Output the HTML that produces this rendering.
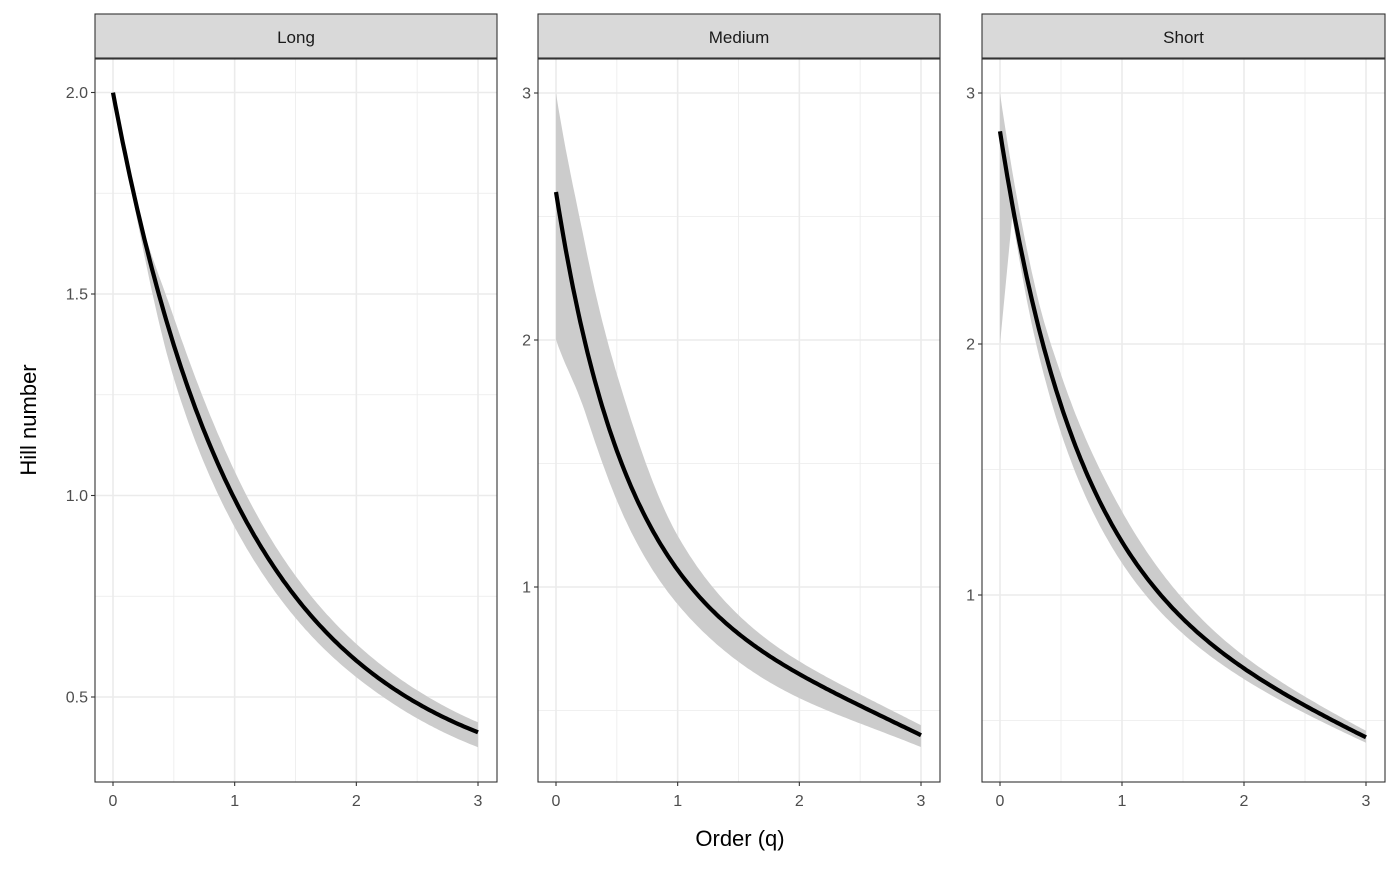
<!DOCTYPE html>
<html><head><meta charset="utf-8"><style>
html,body{margin:0;padding:0;background:#fff;}
svg text{font-family:"Liberation Sans",sans-serif;}
</style></head><body>
<svg id="s" width="1400" height="866" xmlns="http://www.w3.org/2000/svg"></svg>
<script>
const S=document.getElementById('s');let h='';
function mono(k,v){const n=k.length,d=[],m=[];
 for(let i=0;i<n-1;i++)d.push((v[i+1]-v[i])/(k[i+1]-k[i]));
 m[0]=d[0];m[n-1]=d[n-2];
 for(let i=1;i<n-1;i++){m[i]=(d[i-1]*d[i]<=0)?0:(d[i-1]+d[i])/2;}
 for(let i=0;i<n-1;i++){if(d[i]===0){m[i]=m[i+1]=0;continue;}
  const a=m[i]/d[i],b=m[i+1]/d[i],s=a*a+b*b;if(s>9){const t=3/Math.sqrt(s);m[i]=t*a*d[i];m[i+1]=t*b*d[i];}}
 return q=>{let i=0;while(i<n-2&&q>k[i+1])i++;const hh=k[i+1]-k[i],t=(q-k[i])/hh,t2=t*t,t3=t2*t;
  return (2*t3-3*t2+1)*v[i]+(t3-2*t2+t)*hh*m[i]+(-2*t3+3*t2)*v[i+1]+(t3-t2)*hh*m[i+1];};}
function polyfit(k,v,deg){const n=deg+1,A=[],B=[];
 for(let i=0;i<n;i++){A.push(new Array(n).fill(0));B.push(0);}
 k.forEach((x,j)=>{const w=(j==0)?20:1;for(let r=0;r<n;r++){B[r]+=w*v[j]*Math.pow(x,r);for(let c=0;c<n;c++)A[r][c]+=w*Math.pow(x,r+c);}});
 for(let i=0;i<n;i++){let p=i;for(let r=i+1;r<n;r++)if(Math.abs(A[r][i])>Math.abs(A[p][i]))p=r;
  [A[i],A[p]]=[A[p],A[i]];[B[i],B[p]]=[B[p],B[i]];
  for(let r=0;r<n;r++)if(r!=i){const f=A[r][i]/A[i][i];for(let c=i;c<n;c++)A[r][c]-=f*A[i][c];B[r]-=f*B[i];}}
 const co=B.map((b,i)=>b/A[i][i]);
 return q=>Math.exp(co.reduce((s,c,i)=>s+c*Math.pow(q,i),0));}
function logfit(k,v,deg){return polyfit(k,v.map(Math.log),deg);}
const panels=[
 {name:'Long',x0:95,x1:497,qx0:113,qs:121.67,vy0:697,v0:0.5,vs:403,
  major:[0.5,1,1.5,2],labels:['0.5','1.0','1.5','2.0'],minor:[0.75,1.25,1.75],
  f:[[0,0.154,0.387,0.647,0.99,1.47,2.0,2.59,3],[2.0,1.75,1.5,1.25,1.0,0.75,0.59,0.475,0.41]],
  up:[[0,0.15,0.5,1,2,3],[1,1.0,1.05,1.07,1.07,1.06]],
  lo:[[0,0.15,0.5,1,2,3],[1,0.99,0.94,0.93,0.93,0.91]]},
 {name:'Medium',x0:538,x1:940,qx0:556,qs:121.67,vy0:587,v0:1,vs:247,
  major:[1,2,3],labels:['1','2','3'],minor:[0.5,1.5,2.5],
  f:[[0,0.235,0.52,1.14,2.0,2.59,3],[2.6,2.0,1.5,1.0,0.64,0.5,0.40]],
  up:[[0,0.25,0.5,1,2,3],[1.154,1.2,1.2,1.13,1.08,1.1]],
  lo:[[0,0.25,0.5,1,2,3],[0.77,0.86,0.87,0.87,0.85,0.88]]},
 {name:'Short',x0:982,x1:1385,qx0:1000,qs:122,vy0:595,v0:1,vs:251,
  major:[1,2,3],labels:['1','2','3'],minor:[0.5,1.5,2.5],
  f:[[0,0.115,0.33,0.7,1.35,2,2.72,3],[2.85,2.5,2.0,1.5,1.0,0.70,0.5,0.435]],
  up:[[0,0.3,0.5,1,2,3],[1.053,1.05,1.07,1.1,1.07,1.06]],
  lo:[[0.1,0.3,1,2,3],[0.98,0.95,0.93,0.94,0.95]],loStart:2.0}
];
panels.forEach(p=>{
 const X=q=>p.qx0+q*p.qs, Y=v=>p.vy0-(v-p.v0)*p.vs;
 const F=logfit(p.f[0],p.f[1],3),U=mono(...p.up),L=mono(...p.lo);
 h+=`<rect x="${p.x0}" y="59" width="${p.x1-p.x0}" height="723" fill="#fff"/>`;
 p.minor.forEach(v=>h+=`<line x1="${p.x0}" x2="${p.x1}" y1="${Y(v)}" y2="${Y(v)}" stroke="#ebebeb" stroke-width="0.8"/>`);
 [0.5,1.5,2.5].forEach(q=>h+=`<line y1="59" y2="782" x1="${X(q)}" x2="${X(q)}" stroke="#ebebeb" stroke-width="0.8"/>`);
 p.major.forEach(v=>h+=`<line x1="${p.x0}" x2="${p.x1}" y1="${Y(v)}" y2="${Y(v)}" stroke="#ebebeb" stroke-width="1.6"/>`);
 [0,1,2,3].forEach(q=>h+=`<line y1="59" y2="782" x1="${X(q)}" x2="${X(q)}" stroke="#ebebeb" stroke-width="1.6"/>`);
 let up=[],lo=[],ln=[];
 for(let i=0;i<=150;i++){const q=i*3/150,f=F(q);
  up.push(X(q).toFixed(1)+','+Y(f*U(q)).toFixed(1));
  ln.push(X(q).toFixed(1)+','+Y(f).toFixed(1));
  if(p.loStart!==undefined && q<0.1){ if(i==0)lo.push(X(0).toFixed(1)+','+Y(p.loStart).toFixed(1)); continue;}
  lo.push(X(q).toFixed(1)+','+Y(f*L(q)).toFixed(1));}
 h+=`<polygon points="${up.join(' ')} ${lo.reverse().join(' ')}" fill="#cccccc"/>`;
 h+=`<polyline points="${ln.join(' ')}" fill="none" stroke="#000" stroke-width="4.2"/>`;
 h+=`<rect x="${p.x0}" y="59" width="${p.x1-p.x0}" height="723" fill="none" stroke="#333" stroke-width="1.1"/>`;
 h+=`<rect x="${p.x0}" y="14" width="${p.x1-p.x0}" height="44" fill="#d9d9d9" stroke="#333" stroke-width="1.1"/>`;
 h+=`<text x="${(p.x0+p.x1)/2}" y="43" text-anchor="middle" font-size="17" fill="#1a1a1a">${p.name}</text>`;
 p.major.forEach((v,i)=>{h+=`<line x1="${p.x0-4}" x2="${p.x0}" y1="${Y(v)}" y2="${Y(v)}" stroke="#333" stroke-width="1.1"/>`;
  h+=`<text x="${p.x0-7}" y="${Y(v)+5.5}" text-anchor="end" font-size="16" fill="#4d4d4d">${p.labels[i]}</text>`;});
 [0,1,2,3].forEach(q=>{h+=`<line y1="782" y2="786" x1="${X(q)}" x2="${X(q)}" stroke="#333" stroke-width="1.1"/>`;
  h+=`<text x="${X(q)}" y="806" text-anchor="middle" font-size="16" fill="#4d4d4d">${q}</text>`;});
});
h+=`<text x="740" y="846" text-anchor="middle" font-size="22" fill="#000">Order (q)</text>`;
h+=`<text transform="translate(36,420) rotate(-90)" text-anchor="middle" font-size="22" fill="#000">Hill number</text>`;
S.innerHTML=h;
</script>
</body></html>
